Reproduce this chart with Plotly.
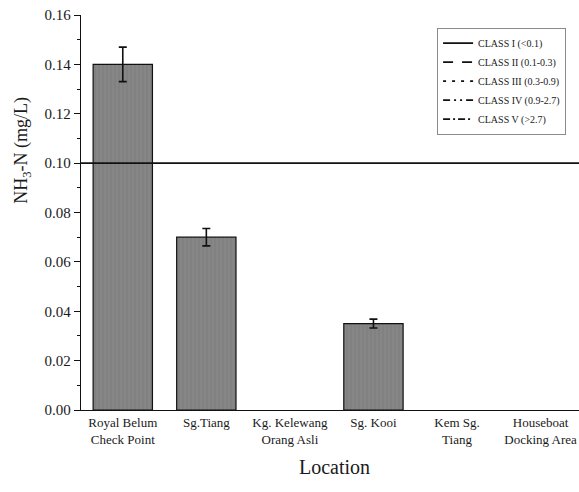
import plotly.graph_objects as go

# Sampling locations and measured ammonia-nitrogen (mean ± error)
locations = [
    "Royal Belum<br>Check Point",
    "Sg.Tiang",
    "Kg. Kelewang<br>Orang Asli",
    "Sg. Kooi",
    "Kem Sg.<br>Tiang",
    "Houseboat<br>Docking Area",
]
nh3n = [0.14, 0.07, None, 0.035, None, None]
nh3n_err = [0.007, 0.0035, 0, 0.0018, 0, 0]

# Water quality class limits for NH3-N (mg/L)
class_names = [
    "CLASS I (<0.1)",
    "CLASS II (0.1-0.3)",
    "CLASS III (0.3-0.9)",
    "CLASS IV (0.9-2.7)",
    "CLASS V (>2.7)",
]
class_limits = [0.1, 0.3, 0.9, 2.7, 2.7]
class_dashes = ["solid", "10px,9px", "3px,6px", "7px,4px,2px,4px,2px,4px", "7px,3px,2px,3px"]

y_ticks = [0.00, 0.02, 0.04, 0.06, 0.08, 0.10, 0.12, 0.14, 0.16]
y_ticktext = [f"{v:.2f}" for v in y_ticks]

FONT = "Liberation Serif, Times New Roman, serif"
INK = "#1a1a1a"
x_pos = list(range(len(locations)))
x_range = [-0.5, 5.46]

fig = go.Figure()

fig.add_trace(go.Bar(
    x=x_pos,
    y=nh3n,
    width=0.71,
    marker=dict(
        color="#828282",
        line=dict(color="#111111", width=1.2),
        pattern=dict(shape="|", fgcolor="#747474", bgcolor="#868686", size=4, solidity=0.3),
    ),
    error_y=dict(type="data", array=nh3n_err, visible=True, color="#111111", thickness=1.6, width=4),
    showlegend=False,
))

for name, lim, dash in zip(class_names, class_limits, class_dashes):
    fig.add_trace(go.Scatter(
        x=x_range,
        y=[lim, lim],
        mode="lines",
        name=name,
        line=dict(color="#111111", width=1.6, dash=dash),
    ))

fig.update_layout(
    width=579,
    height=492,
    margin=dict(l=81, r=0, t=15, b=82),
    paper_bgcolor="white",
    plot_bgcolor="white",
    font=dict(family=FONT, color=INK, size=13),
    bargap=0.3,
    legend=dict(
        x=0.715, y=0.968, xanchor="left", yanchor="top",
        bgcolor="white", bordercolor="#8a8a8a", borderwidth=1,
        font=dict(family=FONT, size=10, color=INK),
        tracegroupgap=0,
        itemwidth=30,
    ),
    annotations=[
        dict(
            text="NH<sub>3</sub>-N (mg/L)",
            xref="paper", yref="paper", x=-0.118, y=0.657,
            xanchor="center", yanchor="middle", textangle=-90,
            showarrow=False, font=dict(family=FONT, size=18, color=INK),
        ),
        dict(
            text="Location",
            xref="paper", yref="paper", x=0.51, y=-0.145,
            xanchor="center", yanchor="middle",
            showarrow=False, font=dict(family=FONT, size=20, color=INK),
        ),
    ],
)

fig.update_xaxes(
    range=x_range,
    tickvals=x_pos,
    ticktext=locations,
    ticks="",
    showline=True, linecolor="#111111", linewidth=1.4,
    showgrid=False, zeroline=False,
    tickfont=dict(family=FONT, size=13, color=INK),
)

fig.update_yaxes(
    range=[0, 0.16],
    tickvals=y_ticks,
    ticktext=y_ticktext,
    ticks="outside", ticklen=6, tickwidth=1.2, tickcolor="#111111",
    minor=dict(dtick=0.01, ticks="outside", ticklen=3, tickwidth=1.2, tickcolor="#111111", showgrid=False),
    showline=True, linecolor="#111111", linewidth=1.4,
    showgrid=False, zeroline=False,
    tickfont=dict(family=FONT, size=15, color=INK),
)

fig.write_html("out.html")
